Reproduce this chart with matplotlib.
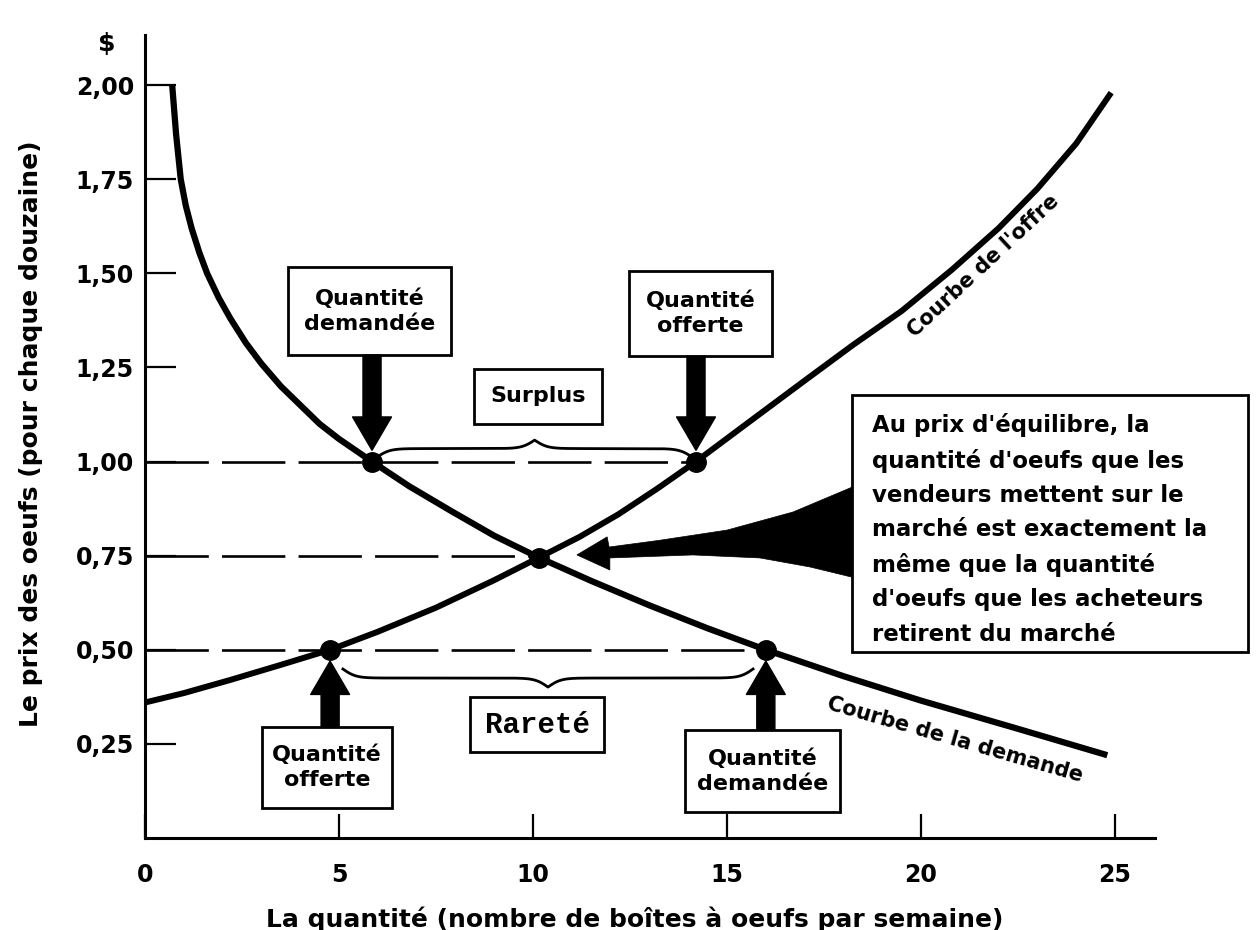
import numpy as np
import matplotlib
matplotlib.use("Agg")
import matplotlib.pyplot as plt
from matplotlib.patches import Rectangle, Polygon

plt.rcParams['font.family'] = ['DejaVu Sans']
plt.rcParams['font.weight'] = 'bold'

# courbe de la demande (quantité, prix)
demande_q = [0.70, 0.80, 0.92, 1.05, 1.2, 1.4, 1.6, 1.9, 2.2, 2.6, 3.0, 3.5, 4.0, 4.5, 5.0,
             5.85, 6.8, 7.9, 9.0, 10.15, 11.5, 13.0, 14.5, 16.0, 18.0, 20.0, 22.5, 24.8]
demande_p = [2.00, 1.87, 1.75, 1.68, 1.62, 1.555, 1.50, 1.435, 1.38, 1.315, 1.26, 1.20, 1.15,
             1.10, 1.06, 1.00, 0.935, 0.868, 0.803, 0.745, 0.683, 0.618, 0.557, 0.50, 0.43,
             0.365, 0.29, 0.22]

# courbe de l'offre
offre_q = [0.0, 1.0, 2.2, 3.5, 4.77, 6.0, 7.5, 9.0, 10.15, 11.2, 12.2, 13.2, 14.2, 15.5,
           17.0, 18.25, 19.5, 20.8, 22.0, 23.0, 24.0, 24.9]
offre_p = [0.36, 0.385, 0.42, 0.46, 0.50, 0.548, 0.612, 0.685, 0.745, 0.80, 0.86, 0.928,
           1.00, 1.10, 1.215, 1.31, 1.40, 1.51, 1.62, 1.725, 1.845, 1.98]

# points marqués
points_q = [5.85, 14.2, 10.15, 4.77, 16.0]
points_p = [1.00, 1.00, 0.745, 0.50, 0.50]

# lignes pointillées (prix, quantité de fin)
tirets_p = [1.00, 0.75, 0.50]
tirets_q = [14.2, 10.15, 16.0]

x_ticks = [0, 5, 10, 15, 20, 25]
y_ticks = [0.25, 0.50, 0.75, 1.00, 1.25, 1.50, 1.75, 2.00]
y_labels = ["0,25", "0,50", "0,75", "1,00", "1,25", "1,50", "1,75", "2,00"]

fig = plt.figure(figsize=(12.59, 9.30), dpi=100)
ax = fig.add_axes([0.1152, 0.0989, 0.8022, 0.8634])
ax.set_xlim(0, 26.03)
ax.set_ylim(0, 2.133)

for s in ['top', 'right']:
    ax.spines[s].set_visible(False)
for s in ['left', 'bottom']:
    ax.spines[s].set_linewidth(2.2)

ax.set_xticks(x_ticks)
ax.set_xticklabels([str(v) for v in x_ticks])
ax.set_yticks(y_ticks)
ax.set_yticklabels(y_labels)
ax.tick_params(axis='y', direction='in', length=22, width=1.6, pad=8, labelsize=17)
ax.tick_params(axis='x', direction='in', length=17, width=1.6, pad=18, labelsize=17)

ax.set_ylabel("Le prix des oeufs (pour chaque douzaine)", fontsize=18, fontweight='bold')
ax.yaxis.set_label_coords(-0.101, 0.503)
ax.set_xlabel("La quantité (nombre de boîtes à oeufs par semaine)", fontsize=18,
              fontweight='bold')
ax.xaxis.set_label_coords(0.485, -0.085)
ax.text(-0.98, 2.11, "$", fontsize=18, ha='center', va='center', clip_on=False)

# tirets
for p, q in zip(tirets_p, tirets_q):
    ax.plot([0, q], [p, p], color='k', lw=1.9, dashes=(24, 5), zorder=2)

ax.plot(demande_q, demande_p, color='k', lw=4.5, solid_capstyle='butt',
        solid_joinstyle='round', zorder=3)
ax.plot(offre_q, offre_p, color='k', lw=4.3, solid_capstyle='butt',
        solid_joinstyle='round', zorder=3)
ax.plot(points_q, points_p, 'o', color='k', markersize=14, zorder=4)


def boite(x0, y0, x1, y1, texte, **kw):
    ax.add_patch(Rectangle((x0, y0), x1 - x0, y1 - y0, fc='white', ec='k', lw=2,
                           zorder=5, clip_on=False))
    ax.text((x0 + x1) / 2, (y0 + y1) / 2, texte, ha='center', va='center',
            zorder=6, linespacing=1.3, **kw)


def fleche(x, y0, y1):
    ax.annotate('', xy=(x, y1), xytext=(x, y0),
                arrowprops=dict(arrowstyle='simple,head_length=2.4,head_width=2.8,tail_width=1.3',
                                fc='k', ec='k', mutation_scale=10, shrinkA=0, shrinkB=0),
                zorder=5)


def accolade(x0, x1, y, h, beta=6.0):
    w = (x1 - x0) / 2
    t = np.linspace(0, w, 200)
    demi = 1 / (1 + np.exp(-beta * t)) + 1 / (1 + np.exp(-beta * (t - w)))
    yy = np.concatenate([demi, demi[-2::-1]])
    xx = np.concatenate([x0 + t, x0 + w + t[1:]])
    ax.plot(xx, y + (yy - 0.5) * h, color='k', lw=2.0, zorder=3)


# en haut
boite(3.69, 1.283, 7.89, 1.517, "Quantité\ndemandée", fontsize=16)
fleche(5.85, 1.283, 1.03)
boite(12.47, 1.280, 16.16, 1.506, "Quantité\nofferte", fontsize=16)
fleche(14.2, 1.280, 1.03)
boite(8.48, 1.100, 11.78, 1.246, "Surplus", fontsize=16)
accolade(5.98, 14.1, 1.012, 0.045)

# en bas
boite(3.02, 0.080, 6.37, 0.295, "Quantité\nofferte", fontsize=16)
fleche(4.77, 0.295, 0.47)
boite(13.92, 0.069, 17.91, 0.287, "Quantité\ndemandée", fontsize=16)
fleche(16.0, 0.287, 0.47)
boite(8.38, 0.228, 11.83, 0.375, "Rareté", fontsize=21, family='Liberation Mono')
accolade(5.10, 15.67, 0.449, -0.048)

# grande boite
ax.add_patch(Rectangle((18.22, 0.494), 10.21, 0.683, fc='white', ec='k', lw=2,
                       zorder=5, clip_on=False))
ax.text(18.74, 1.128,
        "Au prix d'équilibre, la\nquantité d'oeufs que les\nvendeurs mettent sur le\n"
        "marché est exactement la\nmême que la quantité\nd'oeufs que les acheteurs\n"
        "retirent du marché",
        fontsize=16.5, ha='left', va='top', linespacing=1.62, zorder=6, clip_on=False)

coin = [(11.13, 0.752), (11.91, 0.800), (11.96, 0.773), (13.27, 0.791), (15.0, 0.818),
        (16.70, 0.866), (18.22, 0.932), (18.22, 0.693), (17.14, 0.720), (15.85, 0.744),
        (14.12, 0.752), (11.98, 0.744), (11.98, 0.712)]
ax.add_patch(Polygon(coin, closed=True, fc='k', ec='k', lw=0.5, zorder=4))

ax.text(21.62, 1.52, "Courbe de l'offre", fontsize=15, rotation=43,
        ha='center', va='center')
ax.text(20.88, 0.262, "Courbe de la demande", fontsize=15, rotation=-16,
        ha='center', va='center')

fig.savefig("out.png", dpi=100)
